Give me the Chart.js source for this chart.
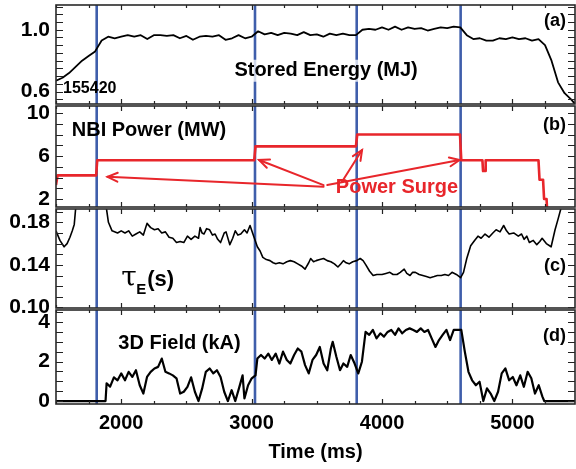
<!DOCTYPE html>
<html><head><meta charset="utf-8">
<script src="https://cdn.jsdelivr.net/npm/chart.js@4/dist/chart.umd.min.js"></script>
<style>
html,body{margin:0;padding:0;background:#fff;}
#wrap{position:relative;width:576px;height:469px;overflow:hidden;background:#fff;}
#wrap canvas{position:absolute;left:0;top:0;}
</style></head><body>
<div id="wrap">
<canvas id="cA" width="576" height="469"></canvas>
<canvas id="cB" width="576" height="469"></canvas>
<canvas id="cC" width="576" height="469"></canvas>
<canvas id="cD" width="576" height="469"></canvas>
</div>
<script>
// ---------------- DATA ----------------
const surgeTimes = [1812, 3026, 3806, 4603];
const xTickLabels = [2000, 3000, 4000, 5000];

const energyTime = [1500,1550,1600,1650,1700,1750,1800,1850,1900,1950,2000,2050,2100,2150,2200,2250,2300,2350,2400,2450,2500,2550,2600,2650,2700,2750,2800,2850,2900,2950,3000,3050,3100,3150,3200,3250,3300,3350,3400,3450,3500,3550,3600,3650,3700,3750,3800,3850,3900,3950,4000,4050,4100,4150,4200,4250,4300,4350,4400,4450,4500,4550,4600,4650,4700,4750,4800,4850,4900,4950,5000,5050,5100,5150,5200,5250,5300,5350,5400,5450,5480];
const energyMJ = [0.67,0.69,0.72,0.76,0.80,0.83,0.86,0.93,0.955,0.945,0.955,0.965,0.955,0.965,0.94,0.965,0.965,0.96,0.965,0.945,0.96,0.935,0.955,0.96,0.955,0.965,0.935,0.945,0.965,0.945,0.955,0.99,0.97,0.98,0.965,0.98,0.975,0.965,0.985,0.965,0.97,0.955,0.975,0.965,0.975,0.965,0.965,1.0,1.005,1.0,1.015,1.0,1.02,1.0,1.015,1.005,1.01,0.995,1.005,1.015,1.01,1.02,1.015,0.965,0.94,0.945,0.93,0.93,0.945,0.94,0.95,0.94,0.945,0.93,0.94,0.90,0.80,0.66,0.59,0.55,0.52];
const energyTicks = [0.6, 1.0];

const nbiTime = [1500,1512,1808,1816,3020,3030,3800,3810,4598,4608,4770,4775,4790,4795,5200,5208,5235,5243,5262,5270,5480];
const nbiMW  = [3.3,4.2,4.2,5.6,5.6,6.9,6.9,8.0,8.0,5.6,5.6,4.6,4.6,5.6,5.6,3.8,3.8,2.0,2.0,0.0,0.0];
const nbiTicks = [2, 6, 10];

const tauTime = [1500,1530,1562,1585,1607,1625,1640,1650,1665,1870,1888,1902,1930,1972,2000,2029,2057,2085,2113,2142,2170,2198,2226,2255,2283,2311,2339,2367,2396,2424,2452,2480,2508,2536,2565,2593,2605,2620,2635,2655,2678,2700,2720,2740,2762,2790,2804,2833,2855,2875,2895,2917,2945,2965,2988,3016,3044,3065,3086,3113,3141,3165,3185,3213,3241,3270,3297,3326,3354,3382,3410,3438,3453,3475,3495,3523,3552,3580,3608,3635,3662,3685,3704,3725,3748,3776,3806,3833,3855,3876,3905,3932,3960,4000,4030,4060,4085,4115,4140,4170,4190,4215,4235,4256,4285,4313,4340,4369,4400,4425,4455,4482,4510,4537,4570,4603,4625,4650,4680,4710,4736,4760,4790,4820,4850,4875,4905,4933,4955,4975,5010,5045,5070,5090,5110,5130,5160,5187,5210,5228,5260,5297,5327,5350,5370,5385,5480];
const tauS = [0.172,0.163,0.157,0.160,0.166,0.172,0.178,0.192,0.23,0.23,0.192,0.180,0.172,0.170,0.172,0.170,0.172,0.167,0.169,0.171,0.168,0.179,0.175,0.173,0.174,0.170,0.171,0.166,0.165,0.161,0.162,0.161,0.167,0.164,0.167,0.165,0.175,0.170,0.169,0.174,0.173,0.168,0.169,0.164,0.161,0.170,0.171,0.159,0.165,0.172,0.168,0.169,0.173,0.170,0.177,0.167,0.157,0.153,0.147,0.145,0.144,0.142,0.141,0.142,0.141,0.143,0.144,0.143,0.141,0.139,0.136,0.142,0.146,0.143,0.144,0.145,0.146,0.144,0.143,0.141,0.138,0.141,0.144,0.142,0.141,0.143,0.144,0.146,0.144,0.140,0.134,0.130,0.131,0.131,0.132,0.133,0.131,0.131,0.133,0.136,0.132,0.130,0.133,0.133,0.131,0.130,0.129,0.128,0.129,0.130,0.130,0.131,0.130,0.133,0.131,0.128,0.133,0.146,0.158,0.163,0.167,0.165,0.169,0.166,0.170,0.173,0.171,0.177,0.172,0.169,0.170,0.167,0.169,0.164,0.167,0.161,0.163,0.159,0.162,0.165,0.160,0.157,0.173,0.183,0.192,0.23,0.23];
const tauTicks = [0.10, 0.14, 0.18];

const fieldTime = [1500,1880,1888,1915,1944,1972,2000,2029,2057,2085,2113,2142,2170,2198,2226,2255,2283,2311,2339,2367,2396,2424,2452,2480,2508,2536,2565,2593,2621,2649,2678,2706,2734,2762,2790,2818,2847,2875,2903,2931,2945,2973,3001,3030,3044,3072,3100,3128,3155,3185,3213,3241,3270,3297,3326,3354,3382,3410,3438,3467,3495,3523,3552,3580,3608,3622,3650,3678,3704,3733,3760,3790,3818,3846,3874,3902,3930,3958,3987,4015,4043,4071,4100,4127,4155,4183,4212,4240,4268,4297,4325,4353,4381,4410,4437,4465,4494,4522,4550,4579,4608,4635,4663,4691,4720,4748,4777,4805,4833,4861,4890,4918,4946,4975,5003,5031,5060,5088,5117,5145,5173,5202,5230,5244,5480];
const fieldKA = [0,0,0.9,0.73,1.2,1.05,1.4,1.05,1.48,1.22,1.56,0.8,0.38,1.22,1.48,1.65,1.73,2.15,1.48,1.4,1.3,1.15,0.38,0.47,0.72,1.2,0.47,0,0.64,1.48,1.65,1.4,1.56,1.22,0.47,0,0.55,0,0.64,1.3,0.13,0.8,1.15,1.3,2.15,2.33,2.15,2.4,2.08,2.4,1.9,2.5,2.08,1.9,2.33,2.66,2.5,1.82,1.4,2.08,2.33,2.74,1.9,1.56,2.66,3.0,2.24,1.56,1.9,1.73,2.33,1.9,1.4,1.99,3.5,3.35,3.6,3.17,3.43,3.26,3.5,3.6,3.35,3.68,3.43,3.6,3.68,3.6,3.5,3.68,3.5,3.6,3.17,2.74,3.09,3.35,3.6,3.09,3.6,3.6,3.6,2.5,1.48,1.05,0.8,0.98,0,0.64,0.38,0,0.47,1.4,1.65,1.05,1.22,0.8,1.3,0.72,1.48,1.15,0.38,0.8,0.22,0,0];
const fieldTicks = [0, 2, 4];

// ---------------- DRAWING ----------------
const FONT = "'Liberation Sans', Arial, Helvetica, sans-serif";
const RED = '#e8262b';
const BLUE = '#3f5eab';

function drawArrow(ctx, x1, y1, x2, y2) {
  ctx.strokeStyle = RED; ctx.lineWidth = 2; ctx.lineCap = 'round';
  ctx.beginPath(); ctx.moveTo(x1, y1); ctx.lineTo(x2, y2); ctx.stroke();
  const a = Math.atan2(y2 - y1, x2 - x1), h = 11;
  ctx.beginPath();
  ctx.moveTo(x2 - h * Math.cos(a - 0.42), y2 - h * Math.sin(a - 0.42));
  ctx.lineTo(x2, y2);
  ctx.lineTo(x2 - h * Math.cos(a + 0.42), y2 - h * Math.sin(a + 0.42));
  ctx.stroke();
}

function makeDeco(cfg) {
  return {
    id: 'deco' + cfg.id,
    beforeDatasetsDraw(chart) {
      const {ctx, chartArea: a, scales: {x}} = chart;
      ctx.save();
      ctx.beginPath(); ctx.rect(a.left, a.top - 1, a.right - a.left, a.bottom - a.top + 2); ctx.clip();
      ctx.strokeStyle = BLUE; ctx.lineWidth = 2.6;
      surgeTimes.forEach(t => {
        const px = x.getPixelForValue(t);
        ctx.beginPath(); ctx.moveTo(px, a.top); ctx.lineTo(px, a.bottom); ctx.stroke();
      });
      ctx.restore();
    },
    afterDatasetsDraw(chart) {
      const {ctx, chartArea: a, scales: {x, y}} = chart;
      ctx.save();
      ctx.strokeStyle = '#222'; ctx.lineWidth = 1.2;
      const st = cfg.minorStep;
      for (let v = Math.ceil(cfg.min / st - 1e-6) * st; v <= cfg.max + 1e-9; v += st) {
        const py = Math.round(y.getPixelForValue(v)) + 0.5;
        ctx.beginPath();
        ctx.moveTo(a.left, py); ctx.lineTo(a.left + 7, py);
        ctx.moveTo(a.right, py); ctx.lineTo(a.right - 7, py);
        ctx.stroke();
      }
      for (let t = 1500; t <= 5480; t += 250) {
        const px = Math.round(x.getPixelForValue(t)) + 0.5;
        const len = (t % 1000 === 0) ? 5 : 3;
        ctx.beginPath();
        ctx.moveTo(px, a.top); ctx.lineTo(px, a.top + len);
        ctx.moveTo(px, a.bottom); ctx.lineTo(px, a.bottom - len);
        ctx.stroke();
      }
      ctx.strokeStyle = '#2a2a2a'; ctx.lineWidth = 1.6;
      ctx.strokeRect(a.left, a.top, a.right - a.left, a.bottom - a.top);
      (cfg.texts || []).forEach(tx => {
        const px = x.getPixelForValue(tx.t), py = y.getPixelForValue(tx.v);
        ctx.font = tx.font; ctx.textAlign = tx.align || 'center'; ctx.textBaseline = 'middle';
        if (tx.bg) {
          const w = ctx.measureText(tx.s).width;
          const lx = tx.align === 'left' ? px : (tx.align === 'right' ? px - w : px - w / 2);
          ctx.fillStyle = 'rgba(255,255,255,0.75)';
          ctx.fillRect(lx - 2, py - 11, w + 4, 22);
        }
        ctx.fillStyle = tx.color || '#000';
        ctx.fillText(tx.s, px, py);
      });
      (cfg.arrows || []).forEach(ar => {
        drawArrow(ctx, x.getPixelForValue(ar[0]), y.getPixelForValue(ar[1]), x.getPixelForValue(ar[2]), y.getPixelForValue(ar[3]));
      });
      if (cfg.extra) cfg.extra(ctx, x, y);
      ctx.restore();
    }
  };
}

function zeroPad(s) { s.paddingTop = 0; s.paddingBottom = 0; s.paddingLeft = 0; s.paddingRight = 0; }

function makePanel(cfg) {
  const pts = cfg.time.map((t, i) => ({x: t, y: cfg.values[i]}));
  return new Chart(document.getElementById(cfg.canvas), {
    type: 'line',
    data: {datasets: [{data: pts, borderColor: cfg.color, borderWidth: cfg.lw, pointRadius: 0, tension: 0, fill: false, clip: 0, borderJoinStyle: 'round'}]},
    options: {
      responsive: false, animation: false, devicePixelRatio: 1,
      layout: {padding: {left: 0, right: 1, top: cfg.padTop, bottom: cfg.padBottom}},
      plugins: {legend: {display: false}, tooltip: {enabled: false}, title: {display: false}},
      scales: {
        x: {
          type: 'linear', min: 1500, max: 5480, display: cfg.showX,
          afterBuildTicks: s => { s.ticks = xTickLabels.map(v => ({value: v})); },
          afterFit: s => { zeroPad(s); if (cfg.showX) s.height = 65; },
          grid: {display: false, drawTicks: false}, border: {display: false},
          ticks: {color: '#000', font: {family: FONT, size: 20, weight: 'bold'}, padding: 7, maxRotation: 0, autoSkip: false,
                  callback: v => String(v)},
          title: {display: cfg.showX, text: 'Time (ms)', color: '#000', font: {family: FONT, size: 20, weight: 'bold'}, padding: {top: 0, bottom: 5}}
        },
        y: {
          type: 'linear', min: cfg.min, max: cfg.max,
          afterBuildTicks: s => { s.ticks = cfg.ticks.map(v => ({value: v})); },
          afterFit: s => { zeroPad(s); s.width = 56; },
          grid: {display: false, drawTicks: false}, border: {display: false},
          ticks: {color: '#000', font: {family: FONT, size: 21, weight: 'bold'}, padding: 6, autoSkip: false,
                  callback: v => v.toFixed(cfg.decimals)}
        }
      }
    },
    plugins: [makeDeco(cfg)]
  });
}

makePanel({
  id: 'A', canvas: 'cA', time: energyTime, values: energyMJ, color: '#000', lw: 1.8,
  min: 0.52, max: 1.16, ticks: energyTicks, decimals: 1, minorStep: 0.05,
  padTop: 5, padBottom: 365, showX: false,
  texts: [
    {s: 'Stored Energy (MJ)', t: 3571, v: 0.735, font: 'bold 20px ' + FONT, bg: true},
    {s: '155420', t: 1554, v: 0.62, font: 'bold 16px ' + FONT, align: 'left'},
    {s: '(a)', t: 5411, v: 1.055, font: 'bold 18px ' + FONT, align: 'right'}
  ]
});

makePanel({
  id: 'B', canvas: 'cB', time: nbiTime, values: nbiMW, color: RED, lw: 2.6,
  min: 1.26, max: 10.65, ticks: nbiTicks, decimals: 0, minorStep: 1,
  padTop: 106, padBottom: 262, showX: false,
  texts: [
    {s: 'NBI Power (MW)', t: 2213, v: 8.4, font: 'bold 20px ' + FONT},
    {s: 'Power Surge', t: 4115, v: 3.1, font: 'bold 20px ' + FONT, color: RED},
    {s: '(b)', t: 5411, v: 8.9, font: 'bold 18px ' + FONT, align: 'right'}
  ],
  arrows: [
    [3552, 3.14, 1895, 4.07],
    [3552, 3.3, 3057, 5.63],
    [3693, 3.6, 3847, 6.56],
    [3580, 3.3, 4595, 5.63]
  ]
});

makePanel({
  id: 'C', canvas: 'cC', time: tauTime, values: tauS, color: '#000', lw: 1.6,
  min: 0.0995, max: 0.1925, ticks: tauTicks, decimals: 2, minorStep: 0.01,
  padTop: 209, padBottom: 161, showX: false,
  texts: [
    {s: '(c)', t: 5411, v: 0.139, font: 'bold 18px ' + FONT, align: 'right'}
  ],
  extra: (ctx, x, y) => {
    ctx.fillStyle = '#000'; ctx.textBaseline = 'alphabetic'; ctx.textAlign = 'left';
    const px = x.getPixelForValue(2000), py = y.getPixelForValue(0.1205);
    ctx.font = '28px "DejaVu Serif", serif';
    ctx.fillText('\u03C4', px, py);
    ctx.font = 'bold 15px ' + FONT;
    ctx.fillText('E', px + 15, py + 8);
    ctx.font = 'bold 22px ' + FONT;
    ctx.fillText('(s)', px + 26, py);
  }
});

makePanel({
  id: 'D', canvas: 'cD', time: fieldTime, values: fieldKA, color: '#000', lw: 2.2,
  min: -0.15, max: 4.61, ticks: fieldTicks, decimals: 0, minorStep: 0.5,
  padTop: 310, padBottom: 0, showX: true,
  texts: [
    {s: '3D Field (kA)', t: 2447, v: 2.9, font: 'bold 20px ' + FONT},
    {s: '(d)', t: 5411, v: 3.3, font: 'bold 18px ' + FONT, align: 'right'}
  ]
});
</script>
</body></html>
